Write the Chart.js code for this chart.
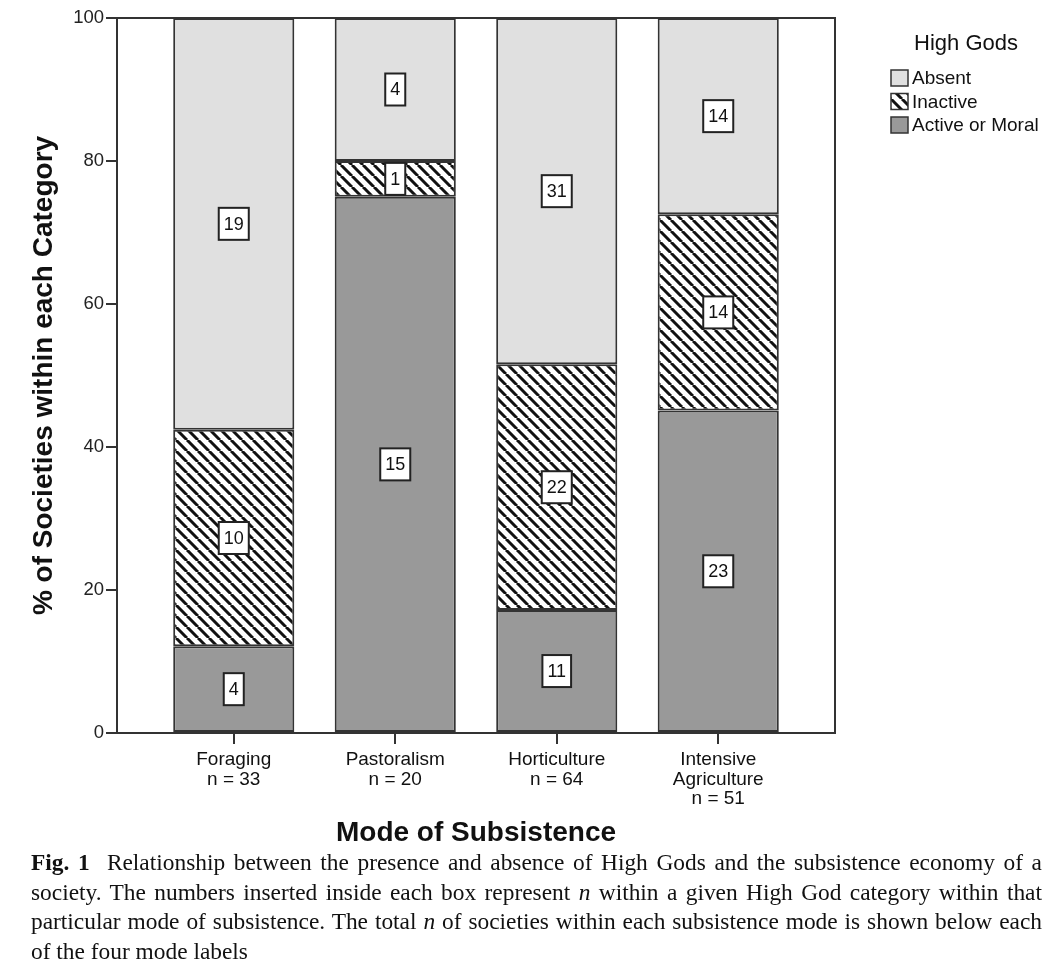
<!DOCTYPE html>
<html>
<head>
<meta charset="utf-8">
<script src="https://cdn.jsdelivr.net/npm/chart.js@4"></script>
<style>
  body { margin: 0; background: #fff; }
  #page { position: relative; width: 1056px; height: 966px; overflow: hidden; }
  #wrap { position: absolute; left: 0; top: 0; width: 1056px; height: 850px; }
  #caption {
    position: absolute; left: 31px; top: 848px; width: 1011px;
    font-family: "Liberation Serif", "DejaVu Serif", serif; font-size: 23.4px;
    line-height: 29.5px; color: #111;
  }
  #caption div { text-align: justify; text-align-last: justify; white-space: nowrap; }
  #caption div.last { text-align-last: left; }
</style>
</head>
<body>
<div id="page">
  <div id="wrap"><canvas id="chart"></canvas></div>
  <div id="caption">
    <div><b>Fig. 1</b>&nbsp; Relationship between the presence and absence of High Gods and the subsistence economy of a</div>
    <div>society. The numbers inserted inside each box represent <i>n</i> within a given High God category within that</div>
    <div>particular mode of subsistence. The total <i>n</i> of societies within each subsistence mode is shown below each</div>
    <div class="last">of the four mode labels</div>
  </div>
</div>
<script>
const modes = [['Foraging'], ['Pastoralism'], ['Horticulture'], ['Intensive', 'Agriculture']];
const activeCounts = [4, 15, 11, 23];
const inactiveCounts = [10, 1, 22, 14];
const absentCounts = [19, 4, 31, 14];
const yTicks = [0, 20, 40, 60, 80, 100];

const totals = modes.map((m, i) => activeCounts[i] + inactiveCounts[i] + absentCounts[i]);
const pct = (arr) => arr.map((v, i) => ({ x: i, y: v / totals[i] * 100, n: v }));

// diagonal hatch fill for "Inactive"
function makeHatch() {
  const s = 11;
  const c = document.createElement('canvas');
  c.width = s; c.height = s;
  const g = c.getContext('2d');
  g.fillStyle = '#fff';
  g.fillRect(0, 0, s, s);
  g.strokeStyle = '#111';
  g.lineWidth = 3;
  g.beginPath();
  [-s, 0, s].forEach(k => { g.moveTo(k, 0); g.lineTo(k + s, s); });
  g.stroke();
  return g.createPattern(c, 'repeat');
}
const hatch = makeHatch();

const FONT = '"Liberation Sans", Arial, sans-serif';

// boxed count labels in the middle of each segment
const countBoxes = {
  id: 'countBoxes',
  afterDatasetsDraw(chart) {
    const ctx = chart.ctx;
    ctx.save();
    ctx.font = '18px ' + FONT;
    ctx.textAlign = 'center';
    ctx.textBaseline = 'middle';
    chart.data.datasets.forEach((ds, di) => {
      chart.getDatasetMeta(di).data.forEach((bar, i) => {
        const txt = String(ds.data[i].n);
        const cy = (bar.y + bar.base) / 2;
        const w = ctx.measureText(txt).width + 10;
        const h = 32;
        ctx.fillStyle = '#fff';
        ctx.fillRect(bar.x - w / 2, cy - h / 2, w, h);
        ctx.lineWidth = 2;
        ctx.strokeStyle = '#222';
        ctx.strokeRect(bar.x - w / 2, cy - h / 2, w, h);
        ctx.fillStyle = '#111';
        ctx.fillText(txt, bar.x, cy + 1);
      });
    });
    // frame round the plot
    const a = chart.chartArea;
    ctx.lineWidth = 2;
    ctx.strokeStyle = '#333';
    ctx.strokeRect(a.left, a.top, a.right - a.left, a.bottom - a.top);
    ctx.restore();
  }
};

// legend at top right
const sideLegend = {
  id: 'sideLegend',
  afterDraw(chart) {
    const ctx = chart.ctx;
    ctx.save();
    ctx.fillStyle = '#111';
    ctx.textBaseline = 'middle';
    ctx.textAlign = 'center';
    ctx.font = '22px ' + FONT;
    ctx.fillText('High Gods', 966, 44);
    ctx.textAlign = 'left';
    ctx.font = '19px ' + FONT;
    const items = chart.data.datasets.slice().reverse();
    items.forEach((ds, k) => {
      const y = 78 + k * 23.5;
      ctx.fillStyle = ds.backgroundColor;
      ctx.fillRect(891, y - 8, 17, 16);
      ctx.lineWidth = 1.5;
      ctx.strokeStyle = '#333';
      ctx.strokeRect(891, y - 8, 17, 16);
      ctx.fillStyle = '#111';
      ctx.fillText(ds.label, 912, y + 1);
    });
    ctx.restore();
  }
};

const barStyle = { borderColor: '#333', borderWidth: 2, borderSkipped: false, barPercentage: 1, categoryPercentage: 0.75 };

new Chart(document.getElementById('chart'), {
  type: 'bar',
  data: {
    datasets: [
      { label: 'Active or Moral', data: pct(activeCounts), backgroundColor: '#999999', ...barStyle },
      { label: 'Inactive', data: pct(inactiveCounts), backgroundColor: hatch, ...barStyle },
      { label: 'Absent', data: pct(absentCounts), backgroundColor: '#e0e0e0', ...barStyle }
    ]
  },
  options: {
    responsive: true,
    maintainAspectRatio: false,
    animation: false,
    layout: { padding: { top: 18, right: 221, left: 0, bottom: 0 } },
    plugins: { legend: { display: false }, tooltip: { enabled: false } },
    scales: {
      x: {
        type: 'linear',
        stacked: true,
        offset: false,
        min: -0.723,
        max: 3.723,
        afterBuildTicks: (s) => { s.ticks = modes.map((m, i) => ({ value: i })); },
        afterFit: (s) => { s.height = 117; },
        grid: { offset: false, drawOnChartArea: false, drawTicks: true, tickLength: 11, color: '#333', lineWidth: 2 },
        border: { display: true, color: '#333', width: 2 },
        ticks: {
          autoSkip: false,
          maxRotation: 0,
          padding: 6,
          color: '#111',
          font: { family: FONT, size: 19, lineHeight: 1.03 },
          callback: (v) => [...modes[v], 'n = ' + totals[v]]
        },
        title: {
          display: true,
          text: 'Mode of Subsistence',
          color: '#111',
          font: { family: FONT, size: 28, weight: 'bold' },
          padding: { top: 0, bottom: 0 }
        }
      },
      y: {
        stacked: true,
        min: 0,
        max: 100,
        afterBuildTicks: (s) => { s.ticks = yTicks.map(v => ({ value: v })); },
        afterFit: (s) => { s.width = 117; },
        grid: { drawOnChartArea: false, drawTicks: true, tickLength: 11, color: '#333', lineWidth: 2 },
        border: { display: true, color: '#333', width: 2 },
        ticks: { color: '#222', padding: 2, font: { family: FONT, size: 18.5 } },
        title: {
          display: true,
          text: '% of Societies within each Category',
          color: '#111',
          font: { family: FONT, size: 28, weight: 'bold' },
          padding: { top: 27, bottom: 0 }
        }
      }
    }
  },
  plugins: [countBoxes, sideLegend]
});
</script>
</body>
</html>
